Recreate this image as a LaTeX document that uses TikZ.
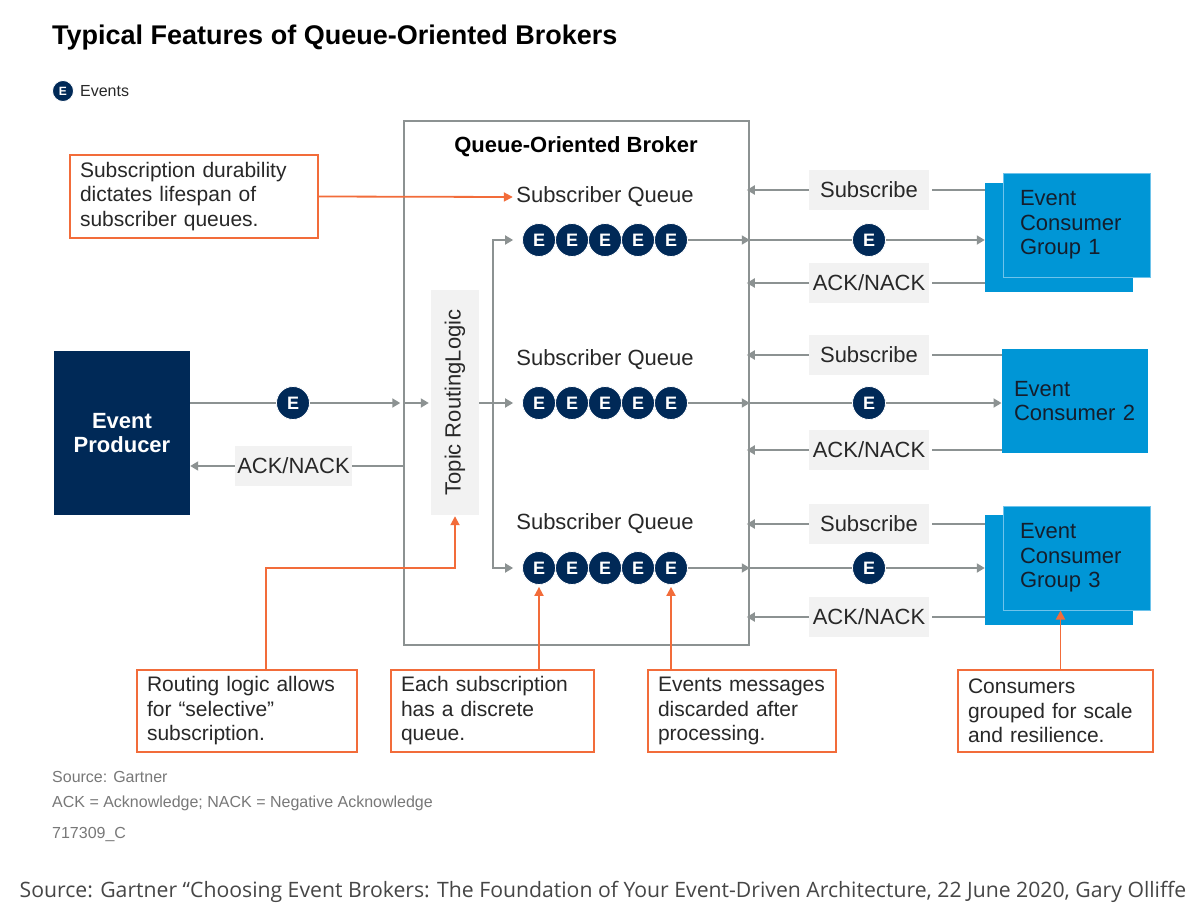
\documentclass[tikz,border=0pt]{standalone}
\usepackage{fontspec}
\setmainfont{Liberation Sans}
\newfontfamily\citefont{Open Sans}
\usetikzlibrary{arrows.meta,positioning}
\definecolor{navy}{RGB}{0,41,87}
\definecolor{cblue}{RGB}{0,150,214}
\definecolor{cedge}{RGB}{110,195,235}
\definecolor{orng}{RGB}{242,108,58}
\definecolor{lgray}{RGB}{140,146,146}
\definecolor{pale}{RGB}{242,242,242}
\definecolor{ink}{RGB}{40,40,40}
\definecolor{cink}{RGB}{20,30,45}
\definecolor{footgray}{RGB}{120,120,120}
\definecolor{citegray}{RGB}{70,70,70}

\begin{document}
\begin{tikzpicture}[x=1pt, y=-1pt,
  ev/.style={circle, fill=navy, draw=white, line width=0.8pt, text=white, inner sep=0pt, minimum size=33pt, font=\fontsize{18}{18}\selectfont\bfseries},
  lbl/.style={fill=pale, text=ink, minimum width=120pt, minimum height=40pt, inner sep=0pt, font=\fontsize{22}{25}\selectfont},
  wire/.style={draw=lgray, line width=1.8pt},
  flow/.style={wire, -{Triangle[length=8pt,width=9pt]}},
  callout/.style={draw=orng, line width=1.8pt, fill=white, text=ink, align=left, inner xsep=10pt, minimum height=82pt, font=\fontsize{21}{24.5}\selectfont},
  pointer/.style={draw=orng, line width=1.8pt, -{Triangle[length=9pt,width=9pt]}},
  consumer/.style={fill=cblue, draw=cedge, line width=1pt, text=cink, align=left, minimum height=104pt, font=\fontsize{22}{24.5}\selectfont},
  backbox/.style={fill=cblue, minimum width=148pt, minimum height=109pt, inner sep=0pt}
]
\fill[white] (0,0) rectangle (1200,918);
\useasboundingbox (0,0) rectangle (1200,918);

% title and legend
\node[anchor=base west, inner sep=0pt, font=\fontsize{27}{27}\selectfont\bfseries] (title) at (52,45) {Typical Features of Queue-Oriented Brokers};
\node[ev, minimum size=21pt, font=\fontsize{12}{12}\selectfont\bfseries] (legE) at (63,91) {E};
\node[right=6pt of legE, inner sep=0pt, text=ink, font=\fontsize{16}{16}\selectfont] (legT) {Events};

% producer
\node[fill=navy, text=white, minimum width=136pt, minimum height=164pt, align=center, font=\fontsize{22}{24}\selectfont\bfseries] (prod) at (122,433) {Event\\Producer};

% broker
\node[draw=lgray, line width=1.5pt, minimum width=345pt, minimum height=524pt, inner sep=0pt] (broker) at (576.5,383) {};
\node[font=\fontsize{22}{22}\selectfont\bfseries] (btitle) at (576,147) {Queue-Oriented Broker};
\node[fill=pale, minimum width=48pt, minimum height=225pt, inner sep=0pt] (route) at (455,402.5) {};
\node[rotate=90, text=ink, font=\fontsize{22}{22}\selectfont] (routeT) at (route) {Topic RoutingLogic};

\foreach \r/\y in {1/197,2/360,3/524}
  \node[text=ink, font=\fontsize{22}{22}\selectfont] (sq\r) at (605,\y) {Subscriber Queue};
\foreach \r/\y in {1/240,2/403,3/568}{
  \foreach \i in {1,...,5}
    \node[ev] (e\r\i) at ({506+33*\i},\y) {E};
  \node[ev] (ec\r) at (869,\y) {E};
}

% consumers
\node[backbox] (cg1b) at (1059,237.5) {};
\node[consumer, text width=113pt, inner xsep=17pt] (cg1) at (1076.5,225) {Event\\Consumer\\Group 1};
\node[consumer, draw=none, text width=122pt, inner xsep=12pt] (c2) at (1075,401) {Event\\Consumer 2};
\node[backbox, minimum height=110pt] (cg3b) at (1059,570) {};
\node[consumer, text width=113pt, inner xsep=17pt] (cg3) at (1076.5,558) {Event\\Consumer\\Group 3};

\foreach \r/\ys/\ya in {1/190/283,2/355/450,3/524/617}{
  \node[lbl] (sub\r) at (869,\ys) {Subscribe};
  \node[lbl] (ack\r) at (869,\ya) {ACK/NACK};
}

% producer side
\node[ev] (eP) at (293,403) {E};
\node[lbl, minimum width=117pt] (ackP) at (293.5,466) {ACK/NACK};
\draw[wire] (prod.east |- eP) -- (eP.west);
\draw[flow, shorten >=3pt] (eP.east) -- (broker.west |- eP);
\draw[flow, shorten >=2pt] (broker.west |- eP) -- (route.west |- eP);
\draw[wire] (broker.west |- ackP) -- (ackP.east);
\draw[flow] (ackP.west) -- (prod.east |- ackP);

% routing to queues
\coordinate (split) at (493,403);
\draw[flow, shorten >=9pt] (route.east |- e21) -- (e21.west);
\draw[flow, shorten >=9pt] (split) |- (e11.west);
\draw[flow, shorten >=9pt] (split) |- (e31.west);

% queues to consumers
\foreach \r/\tg in {1/cg1b,2/c2,3/cg3b}{
  \draw[flow] (e\r5.east) -- (broker.east |- e\r5);
  \draw[wire] (broker.east |- ec\r) -- (ec\r.west);
  \draw[flow] (ec\r.east) -- (\tg.west |- ec\r);
  \draw[wire, shorten <=3pt] (sub\r.east) -- (\tg.west |- sub\r);
  \draw[flow, shorten >=-3pt] (sub\r.west) -- (broker.east |- sub\r);
  \draw[wire, shorten <=3pt] (ack\r.east) -- (\tg.west |- ack\r);
  \draw[flow, shorten >=-3pt] (ack\r.west) -- (broker.east |- ack\r);
}

% callouts
\node[callout, text width=228pt, minimum height=83pt] (dur) at (194,196.5) {Subscription durability\\dictates lifespan of\\subscriber queues.};
\node[callout, text width=200pt] (rl) at (247,711) {Routing logic allows\\for “selective”\\subscription.};
\node[callout, text width=183pt] (ds) at (492.5,711) {Each subscription\\has a discrete\\queue.};
\node[callout, text width=168pt] (em) at (742,711) {Events messages\\discarded after\\processing.};
\node[callout, text width=175pt] (grp) at (1055.5,711) {Consumers\\grouped for scale\\and resilience.};

\draw[pointer] (dur.east) -- (sq1.west);
\coordinate (rlturn) at (route.south |- e31);
\draw[pointer, shorten >=1pt] ([xshift=19pt]rl.north) |- (rlturn) -- (route.south);
\draw[pointer, shorten >=2pt] (ds.north -| e31) -- (e31.south);
\draw[pointer, shorten >=2pt] (em.north -| e35) -- (e35.south);
\draw[pointer] ([xshift=5pt]grp.north) -- ([xshift=5pt]grp.north |- cg3.south);

% footer
\node[anchor=west, inner sep=0pt, text=footgray, font=\fontsize{16}{16}\selectfont] (src) at (52,777) {Source: Gartner};
\node[anchor=west, inner sep=0pt, text=footgray, font=\fontsize{16}{16}\selectfont] (abbr) at (52,803) {ACK = Acknowledge; NACK = Negative Acknowledge};
\node[anchor=west, inner sep=0pt, text=footgray, font=\fontsize{16}{16}\selectfont] (code) at (52,834) {717309\_C};
\node[inner sep=0pt, text=citegray, font=\citefont\fontsize{21.2}{21.2}\selectfont] (cite) at (603,892) {Source: Gartner “Choosing Event Brokers: The Foundation of Your Event-Driven Architecture, 22 June 2020, Gary Olliffe};
\end{tikzpicture}
\end{document}
